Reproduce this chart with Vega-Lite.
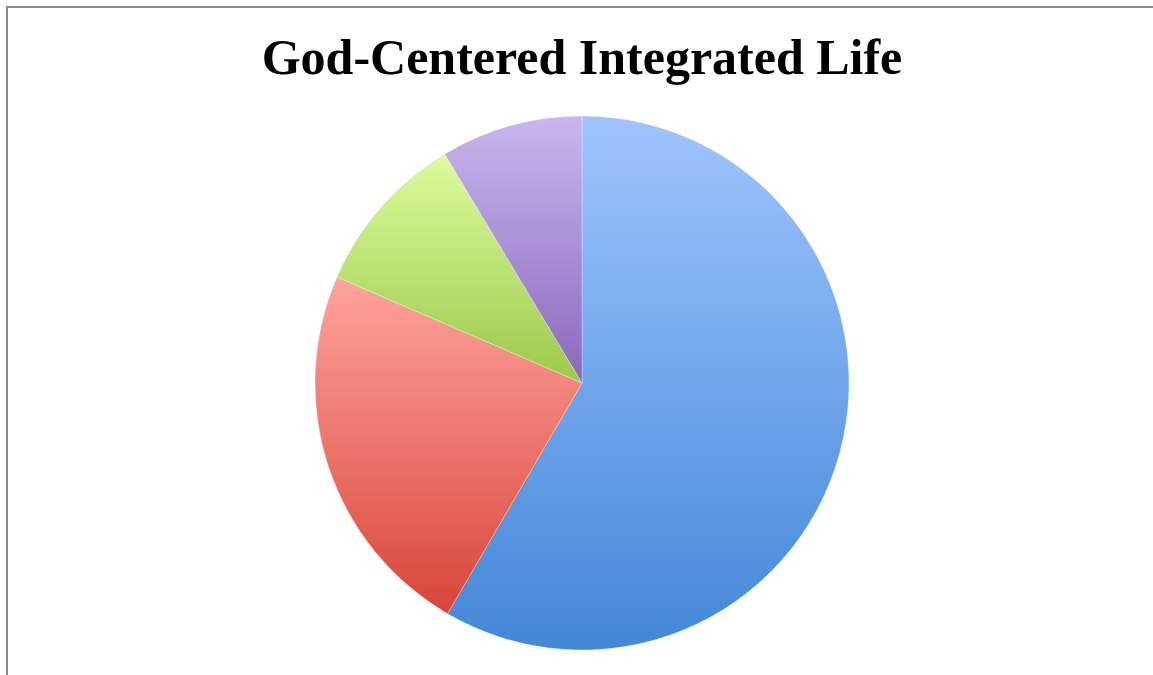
{
  "$schema": "https://vega.github.io/schema/vega-lite/v6.json",
  "autosize": "none",
  "width": 1150,
  "height": 752,
  "padding": {"left": 7, "top": 7, "right": 0, "bottom": 0},
  "background": "white",
  "view": {"stroke": "#8a8a8a", "strokeWidth": 2},
  "title": {
    "text": "God-Centered Integrated Life",
    "font": "Liberation Serif",
    "fontSize": 50,
    "fontWeight": "bold",
    "color": "#000000",
    "anchor": "middle",
    "offset": -77
  },
  "data": {
    "values": [
      {"category": "Slice 1", "share": 58.4, "order": 1},
      {"category": "Slice 2", "share": 23.1, "order": 2},
      {"category": "Slice 3", "share": 9.9, "order": 3},
      {"category": "Slice 4", "share": 8.6, "order": 4}
    ]
  },
  "mark": {"type": "arc", "outerRadius": 267, "stroke": "#ffffff", "strokeWidth": 0.3},
  "encoding": {
    "theta": {"field": "share", "type": "quantitative", "stack": true},
    "order": {"field": "order", "type": "quantitative"},
    "fill": {
      "condition": [
        {"test": "datum.order == 1", "value": {"gradient": "linear", "x1": 0, "y1": 0, "x2": 0, "y2": 1, "stops": [{"offset": 0, "color": "#9ec4ff"}, {"offset": 1, "color": "#4387d6"}]}},
        {"test": "datum.order == 2", "value": {"gradient": "linear", "x1": 0, "y1": 0, "x2": 0, "y2": 1, "stops": [{"offset": 0, "color": "#ffa39c"}, {"offset": 1, "color": "#d8463a"}]}},
        {"test": "datum.order == 3", "value": {"gradient": "linear", "x1": 0, "y1": 0, "x2": 0, "y2": 1, "stops": [{"offset": 0, "color": "#ddfb9e"}, {"offset": 1, "color": "#9bc949"}]}}
      ],
      "value": {"gradient": "linear", "x1": 0, "y1": 0, "x2": 0, "y2": 1, "stops": [{"offset": 0, "color": "#c9b6ee"}, {"offset": 1, "color": "#8a68bc"}]}
    }
  }
}
